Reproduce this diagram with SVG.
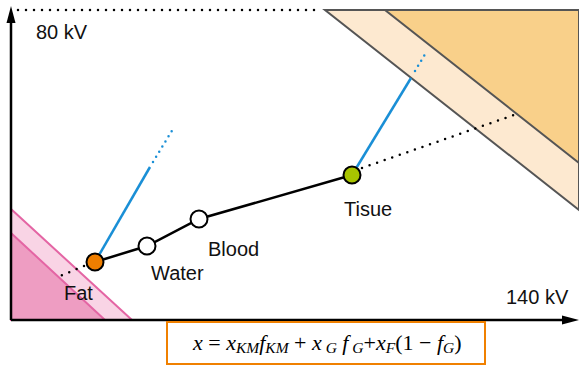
<svg xmlns="http://www.w3.org/2000/svg" width="579" height="367" viewBox="0 0 579 367">
<style>
.lbl{font-family:"Liberation Sans",Arial,sans-serif;font-size:20px;fill:#111}
.pt{stroke:#000;stroke-width:2}
.blue{stroke:#1a8fd6;stroke-width:2.5;fill:none}
.dot{stroke:#000;stroke-width:2.5;stroke-linecap:round;stroke-dasharray:0 8;fill:none}
.bdot{stroke:#1a8fd6;stroke-width:2.5;stroke-linecap:round;stroke-dasharray:0 6;fill:none}
.f{font-family:"Liberation Serif","Times New Roman",serif;font-size:22px;font-style:italic;fill:#000}
.s{font-size:15.5px}
</style>
<rect width="579" height="367" fill="#fff"/>
<g id="regions">
<polygon points="325,10 579,10 579,210" fill="#FDE9D0" stroke="#555" stroke-width="2"/>
<polygon points="385,10 579,10 579,163" fill="#F9D08A" stroke="#555" stroke-width="2"/>
<polygon points="11,209 132,320 11,320" fill="#F9D4E5" stroke="#E465A4" stroke-width="2"/>
<polygon points="11,233 105,320 11,320" fill="#EE9DC2" stroke="#E465A4" stroke-width="2"/>
</g>
<g id="connectors">
<line class="dot" x1="18" y1="10" x2="322" y2="10"/>
<line x1="11" y1="320" x2="11" y2="20" stroke="#000" stroke-width="2.5"/>
<polygon points="11,6 6.5,23 15.5,23" fill="#000"/>
<line x1="11" y1="320" x2="565" y2="320" stroke="#000" stroke-width="2.5"/>
<polygon points="579,320 562,315.5 562,324.5" fill="#000"/>
<line class="blue" x1="95" y1="262" x2="150" y2="167"/>
<line class="bdot" x1="153" y1="162" x2="173" y2="129"/>
<line class="blue" x1="352" y1="175" x2="411" y2="78"/>
<line class="bdot" x1="415" y1="71" x2="427" y2="51"/>
<line class="dot" x1="362" y1="168" x2="514" y2="115"/>
<line class="dot" x1="84" y1="266" x2="60" y2="276"/>
<polyline points="95,262 147,246 199,219 352,175" fill="none" stroke="#000" stroke-width="2.5"/>
</g>
<g id="fat"><circle class="pt" cx="95" cy="262" r="8.5" fill="#EE7E00"/><text class="lbl" x="64" y="300">Fat</text></g>
<g id="water"><circle class="pt" cx="147" cy="246" r="8.5" fill="#fff"/><text class="lbl" x="151" y="280">Water</text></g>
<g id="blood"><circle class="pt" cx="199" cy="219" r="8.5" fill="#fff"/><text class="lbl" x="208" y="256">Blood</text></g>
<g id="tissue"><circle class="pt" cx="352" cy="175" r="8.5" fill="#A8C400"/><text class="lbl" x="344" y="216">Tisue</text></g>
<g id="axis-labels">
<text class="lbl" x="36" y="39">80 kV</text>
<text class="lbl" x="506" y="304">140 kV</text>
</g>
<g id="formula">
<rect x="167" y="322" width="318" height="42" fill="#fff" stroke="#F08000" stroke-width="2"/>
<text class="f" x="193" y="350">x <tspan font-style="normal">=</tspan> x<tspan class="s" dy="3">KM</tspan><tspan dy="-3">f</tspan><tspan class="s" dy="3">KM</tspan><tspan dy="-3" font-style="normal"> + </tspan>x<tspan class="s" dy="3"> G</tspan><tspan dy="-3"> f</tspan><tspan class="s" dy="3"> G</tspan><tspan dy="-3" font-style="normal">+</tspan>x<tspan class="s" dy="3">F</tspan><tspan dy="-3" font-style="normal">(1 − </tspan>f<tspan class="s" dy="3">G</tspan><tspan dy="-3" font-style="normal">)</tspan></text>
</g>
</svg>
